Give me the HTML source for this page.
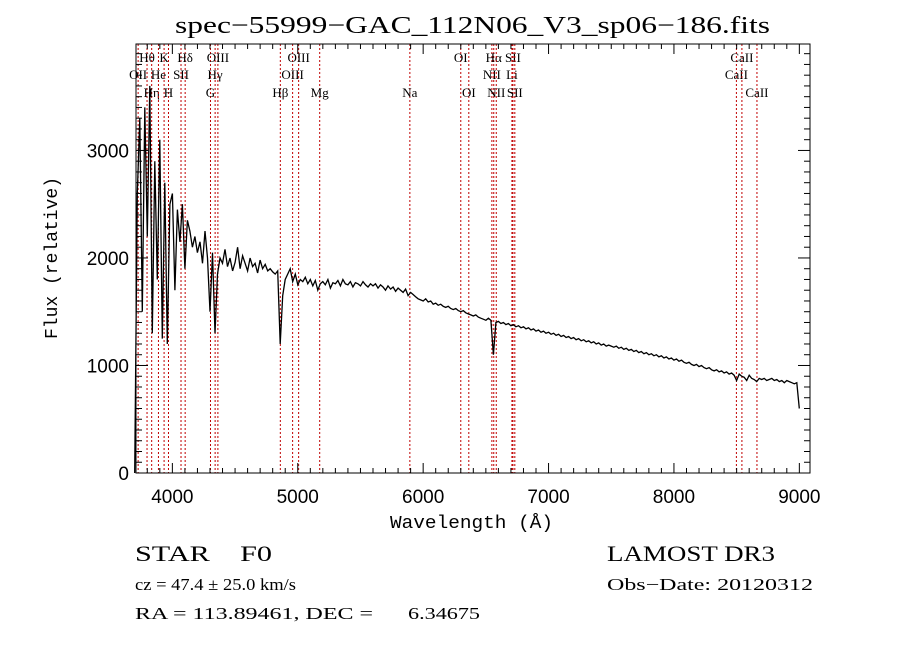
<!DOCTYPE html>
<html><head><meta charset="utf-8">
<style>
html,body{margin:0;padding:0;background:#fff;}
svg{display:block;}
.ser{font-family:"Liberation Serif",serif;}
.sans{font-family:"Liberation Sans",sans-serif;}
.mono{font-family:"Liberation Mono",monospace;}
</style></head>
<body>
<svg id="chart" width="900" height="649" viewBox="0 0 900 649">
<rect x="0" y="0" width="900" height="649" fill="#fff"/>
<text x="175" y="33" textLength="595" lengthAdjust="spacingAndGlyphs" class="ser" font-size="24">spec−55999−GAC_112N06_V3_sp06−186.fits</text>
<g id="lines"></g>
<g id="spec"></g>
<g id="axes"></g>
<text x="390" y="528" textLength="163" lengthAdjust="spacingAndGlyphs" class="mono" font-size="18">Wavelength (Å)</text>
<text transform="translate(57,258) rotate(-90)" text-anchor="middle" class="mono" font-size="18">Flux (relative)</text>
<text x="135" y="561" textLength="137" lengthAdjust="spacingAndGlyphs" class="ser" font-size="22">STAR&#160;&#160;&#160;&#160;F0</text>
<text x="135" y="590" textLength="161" lengthAdjust="spacingAndGlyphs" class="ser" font-size="17">cz = 47.4 ± 25.0 km/s</text>
<text x="135" y="619" textLength="238" lengthAdjust="spacingAndGlyphs" class="ser" font-size="17">RA = 113.89461, DEC =</text>
<text x="408" y="619" textLength="72" lengthAdjust="spacingAndGlyphs" class="ser" font-size="17">6.34675</text>
<text x="607" y="561" textLength="168" lengthAdjust="spacingAndGlyphs" class="ser" font-size="22">LAMOST DR3</text>
<text x="607" y="590" textLength="206" lengthAdjust="spacingAndGlyphs" class="ser" font-size="17">Obs−Date: 20120312</text>
</svg>
<script>
const waveStart = 3700;
const waveStep = 20;
const flux = [
0,2600,3300,1500,3400,2200,3600,1300,2900,1800,3100,1250,2700,1200,2500,
2600,1700,2450,2150,2500,1900,2350,2250,2100,2200,2050,2150,1950,2250,2000,1500,2050,1300,1850,2000,
1950,2080,1920,2000,1880,1960,2100,1900,2020,1950,1880,2000,1920,1950,1860,1980,1900,1940,1880,1900,
1870,1850,1880,1200,1650,1800,1850,1900,1780,1850,1750,1800,1780,1820,1760,1800,1740,1790,1700,1760,
1780,1750,1800,1720,1770,1760,1790,1740,1800,1760,1750,1780,1730,1770,1760,1740,1780,1750,1730,1760,
1740,1760,1720,1750,1730,1700,1740,1710,1730,1690,1720,1700,1680,1710,1650,1680,1660,1640,1620,1610,
1600,1620,1590,1600,1570,1580,1560,1570,1550,1540,1550,1530,1520,1530,1510,1500,1510,1490,1480,1470,
1460,1470,1450,1440,1430,1420,1440,1420,1100,1400,1410,1390,1400,1380,1390,1370,1380,1360,1370,1350,
1360,1340,1350,1330,1340,1320,1330,1310,1320,1300,1310,1290,1300,1280,1290,1270,1280,1260,1270,1250,
1260,1240,1250,1230,1240,1220,1230,1210,1220,1200,1210,1190,1200,1180,1190,1180,1170,1180,1160,1170,
1150,1160,1140,1150,1130,1140,1120,1130,1110,1120,1100,1110,1090,1100,1080,1090,1070,1080,1060,1070,
1050,1060,1040,1050,1030,1020,1030,1010,1000,1010,990,1000,980,970,980,960,950,960,940,950,
930,940,920,930,910,860,920,900,890,860,910,880,870,850,880,870,880,860,870,880,
860,870,850,860,840,860,850,840,830,840,600
];
const lineWaves = [3727,3798,3835,3889,3934,3969,4069,4102,4304,4341,4363,4861,4959,5007,5175,5894,6300,6364,6548,6563,6583,6708,6716,6731,8498,8542,8662];
const labelNames = ["OII","Hθ","Hη","He","K","H","SII","Hδ","G","Hγ","OIII","Hβ","OIII","OIII","Mg","Na","OI","OI","NII","Hα","NII","Li","SII","SII","CaII","CaII","CaII"];
const labelRows = [1,0,2,1,0,2,1,0,2,1,0,2,1,0,2,2,0,2,1,0,2,1,0,2,1,0,2];
const xTicks = [4000,5000,6000,7000,8000,9000];
const yTicks = [0,1000,2000,3000];

const L=136,R=810,T=44,B=473;
const xMin=3710,xMax=9085,yMin=0,yMax=3990;
const X=w=>L+(w-xMin)/(xMax-xMin)*(R-L);
const Y=f=>B-(f-yMin)/(yMax-yMin)*(B-T);
const NS="http://www.w3.org/2000/svg";
function mk(tag,attrs,parent){const e=document.createElementNS(NS,tag);for(const k in attrs)e.setAttribute(k,attrs[k]);parent.appendChild(e);return e;}

const gl=document.getElementById('lines');
lineWaves.forEach((w,i)=>{
  const ln=mk('line',{x1:X(w),x2:X(w),y1:T,y2:B,stroke:'#c00000','stroke-width':1,'stroke-dasharray':'2,2'},gl);
  
  
  const t=mk('text',{x:X(w),y:[62,79,97][labelRows[i]],'text-anchor':'middle','font-size':13,class:'ser'},gl);
  t.textContent=labelNames[i];
  
  
});

const gs=document.getElementById('spec');
let d='';
flux.forEach((f,i)=>{const w=waveStart+i*waveStep;d+=(i?'L':'M')+X(w).toFixed(1)+','+Y(f).toFixed(1);});
const p=mk('path',{d:d,fill:'none',stroke:'#000','stroke-width':1.3},gs);



const ga=document.getElementById('axes');
const fr=mk('rect',{x:L,y:T,width:R-L,height:B-T,fill:'none',stroke:'#000','stroke-width':1},ga);


for(let w=3800;w<=9000;w+=100){
  const major=w%1000===0;const len=major?10:5;
  mk('line',{x1:X(w),x2:X(w),y1:B,y2:B-len,stroke:'#000'},ga);
  mk('line',{x1:X(w),x2:X(w),y1:T,y2:T+len,stroke:'#000'},ga);
}
for(let f=0;f<=3900;f+=100){
  const major=f%1000===0;const len=major?12:6;
  mk('line',{x1:L,x2:L+len,y1:Y(f),y2:Y(f),stroke:'#000'},ga);
  mk('line',{x1:R,x2:R-len,y1:Y(f),y2:Y(f),stroke:'#000'},ga);
}
xTicks.forEach(v=>{
  const t=mk('text',{x:X(v),y:B+30,'text-anchor':'middle','font-size':19,class:'sans'},ga);
  t.textContent=v;
  
  
});
yTicks.forEach(v=>{
  const t=mk('text',{x:L-7,y:Y(v)+7,'text-anchor':'end','font-size':19,class:'sans'},ga);
  t.textContent=v;
  
  
});
</script>
</body></html>
